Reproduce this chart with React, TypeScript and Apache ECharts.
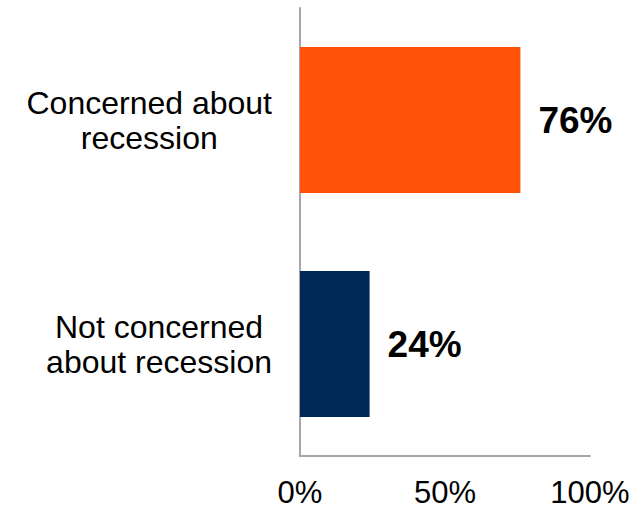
import React, { useEffect, useRef } from "react";
import * as echarts from "echarts";

const categories = ["Concerned about\nrecession", "Not concerned\nabout recession"];
const values = [76, 24];
const barColors = ["#FF5309", "#002855"];
const xTicks = { min: 0, max: 100, interval: 50 };

export default function App() {
  const ref = useRef<HTMLDivElement>(null);
  useEffect(() => {
    if (!ref.current) return;
    const chart = echarts.init(ref.current, null, { renderer: "svg" });
    const font = "'Liberation Sans', Arial, sans-serif";
    chart.setOption({
      animation: false,
      backgroundColor: "#ffffff",
      grid: { left: 300, right: 51, top: 8, bottom: 53, containLabel: false },
      xAxis: {
        type: "value",
        min: xTicks.min,
        max: xTicks.max,
        interval: xTicks.interval,
        axisLine: { show: true, lineStyle: { color: "#A6A6A6", width: 2 } },
        axisTick: { show: false },
        splitLine: { show: false },
        axisLabel: {
          formatter: "{value}%",
          color: "#000",
          fontFamily: font,
          fontSize: 31,
          lineHeight: 31,
          margin: 21,
        },
      },
      yAxis: {
        type: "category",
        inverse: true,
        data: categories,
        axisLine: { show: true, lineStyle: { color: "#A6A6A6", width: 2 } },
        axisTick: { show: false },
        splitLine: { show: false },
        axisLabel: {
          margin: 28,
          formatter: (v: string) => "{c|" + v + "}",
          rich: {
            c: {
              align: "center",
              color: "#000",
              fontFamily: font,
              fontSize: 32,
              lineHeight: 35,
            },
          },
        },
      },
      series: [
        {
          type: "bar",
          data: values.map((v, i) => ({ value: v, itemStyle: { color: barColors[i] } })),
          barWidth: 146,
          label: {
            show: true,
            position: "right",
            distance: 18,
            formatter: "{c}%",
            color: "#000",
            fontFamily: font,
            fontWeight: "bold",
            fontSize: 37,
          },
        },
      ],
    });
    return () => chart.dispose();
  }, []);
  return <div ref={ref} style={{ width: 641, height: 509, position: "absolute", left: 0, top: 0 }} />;
}
